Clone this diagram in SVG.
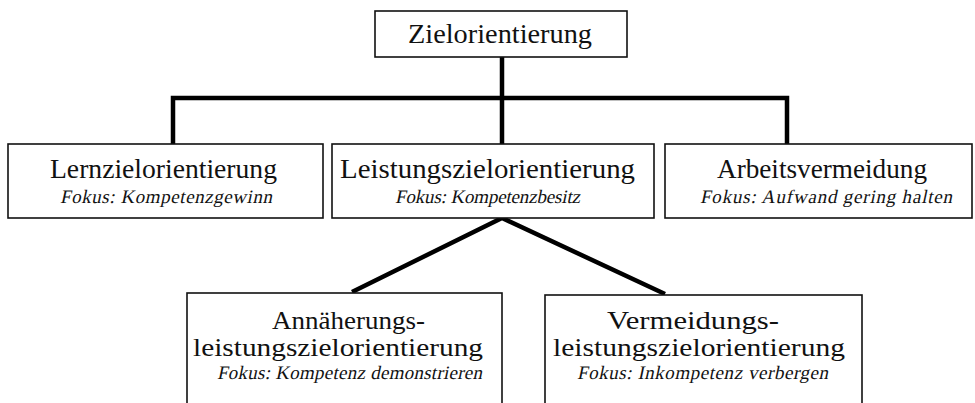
<svg xmlns="http://www.w3.org/2000/svg" width="975" height="403" viewBox="0 0 975 403">
<style>
.box{fill:#fff;stroke:#111;stroke-width:1.6}
.t{font-family:"Liberation Serif","Times New Roman",serif;font-size:27px;fill:#111}
.t2{font-family:"Liberation Serif","Times New Roman",serif;font-size:25px;fill:#111}
.s{font-family:"Liberation Serif","Times New Roman",serif;font-size:19px;fill:#111}
.c{fill:none;stroke:#000;stroke-width:4.5;stroke-linejoin:miter}
</style>
<rect width="975" height="403" fill="#fff"/>
<g id="connectors">
<path class="c" d="M173,144 V98 H787 V144"/>
<path class="c" d="M502,57 V144"/>
<path class="c" d="M352,292 L502,218 L665,294"/>
</g>
<g id="zielorientierung">
<rect class="box" x="375" y="11" width="252" height="46"/>
<text class="t" x="408" y="43" textLength="184" lengthAdjust="spacingAndGlyphs">Zielorientierung</text>
</g>
<g id="lernzielorientierung">
<rect class="box" x="8" y="144" width="315" height="74"/>
<text class="t" x="50" y="178" textLength="227" lengthAdjust="spacingAndGlyphs">Lernzielorientierung</text>
<text class="s" transform="translate(43.16 0) skewX(-12)" x="60" y="203" textLength="212" lengthAdjust="spacing">Fokus: Kompetenzgewinn</text>
</g>
<g id="leistungszielorientierung">
<rect class="box" x="332" y="144" width="322" height="74"/>
<text class="t" x="340" y="178" textLength="295" lengthAdjust="spacingAndGlyphs">Leistungszielorientierung</text>
<text class="s" transform="translate(43.16 0) skewX(-12)" x="395" y="203" textLength="185" lengthAdjust="spacing">Fokus: Kompetenzbesitz</text>
</g>
<g id="arbeitsvermeidung">
<rect class="box" x="665" y="144" width="307" height="74"/>
<text class="t" x="717" y="178" textLength="210" lengthAdjust="spacingAndGlyphs">Arbeitsvermeidung</text>
<text class="s" transform="translate(43.16 0) skewX(-12)" x="700" y="203" textLength="252" lengthAdjust="spacing">Fokus: Aufwand gering halten</text>
</g>
<g id="annaeherung">
<rect class="box" x="187" y="293" width="315" height="120"/>
<text class="t2" x="272" y="329" textLength="153" lengthAdjust="spacingAndGlyphs">Annäherungs-</text>
<text class="t2" x="193" y="356" textLength="290" lengthAdjust="spacingAndGlyphs">leistungszielorientierung</text>
<text class="s" transform="translate(80.58 0) skewX(-12)" x="217" y="379" textLength="265" lengthAdjust="spacing">Fokus: Kompetenz demonstrieren</text>
</g>
<g id="vermeidung">
<rect class="box" x="545" y="295" width="317" height="120"/>
<text class="t2" x="607" y="329" textLength="172" lengthAdjust="spacingAndGlyphs">Vermeidungs-</text>
<text class="t2" x="553" y="356" textLength="292" lengthAdjust="spacingAndGlyphs">leistungszielorientierung</text>
<text class="s" transform="translate(80.58 0) skewX(-12)" x="577" y="379" textLength="251" lengthAdjust="spacing">Fokus: Inkompetenz verbergen</text>
</g>
</svg>
